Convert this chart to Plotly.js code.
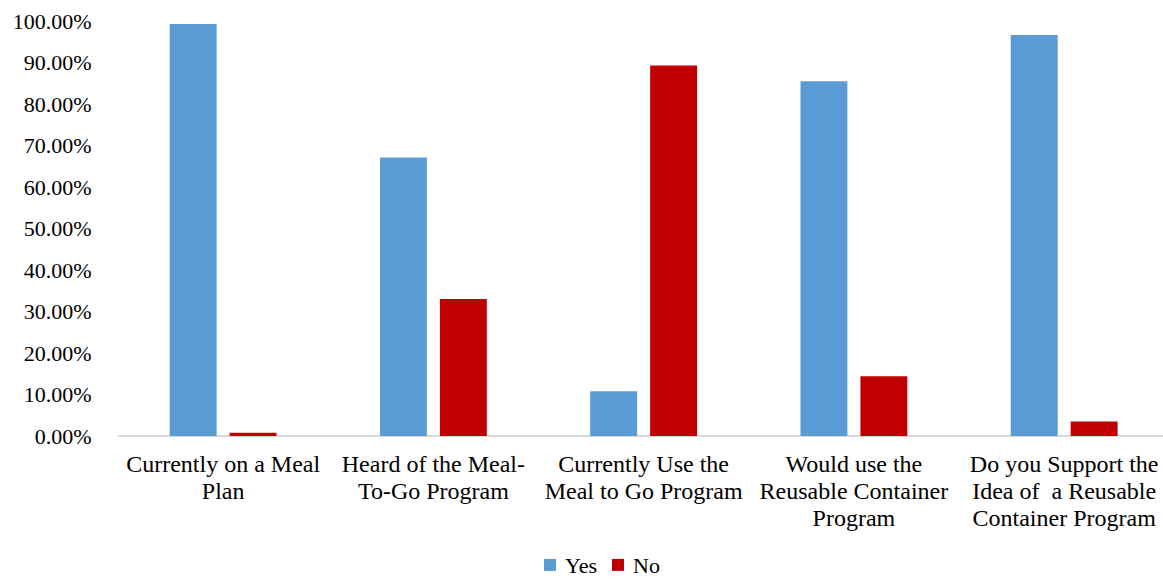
<!DOCTYPE html>
<html>
<head>
<meta charset="utf-8">
<script src="https://cdn.plot.ly/plotly-3.0.1.min.js"></script>
<style>
  html, body { margin: 0; padding: 0; background: #ffffff; }
  #chart { width: 1163px; height: 579px; }
</style>
</head>
<body>
<div id="chart"></div>
<script>
// Survey questions (x categories)
const categories = [
  "Currently on a Meal<br>Plan",
  "Heard of the Meal-<br>To-Go Program",
  "Currently Use the<br>Meal to Go Program",
  "Would use the<br>Reusable Container<br>Program",
  "Do you Support the<br>Idea of  a Reusable<br>Container Program"
];

// Share of respondents answering each way
const yesValues = [0.993, 0.671, 0.108, 0.855, 0.966];
const noValues  = [0.008, 0.330, 0.893, 0.144, 0.035];

// Y-axis ticks
const yTickValues = [0, 0.1, 0.2, 0.3, 0.4, 0.5, 0.6, 0.7, 0.8, 0.9, 1.0];
const yTickLabels = ["0.00%", "10.00%", "20.00%", "30.00%", "40.00%", "50.00%",
                     "60.00%", "70.00%", "80.00%", "90.00%", "100.00%"];

const serif = "Liberation Serif, Times New Roman, serif";

const traces = [
  {
    type: "bar",
    name: "Yes",
    x: categories,
    y: yesValues,
    marker: { color: "#5B9BD5" },
    hoverinfo: "none"
  },
  {
    type: "bar",
    name: "No",
    x: categories,
    y: noValues,
    marker: { color: "#C00000" },
    hoverinfo: "none"
  }
];

const layout = {
  width: 1163,
  height: 579,
  paper_bgcolor: "#ffffff",
  plot_bgcolor: "#ffffff",
  font: { family: serif, color: "#000000", size: 22 },
  margin: { l: 118, r: 0, t: 21, b: 143, pad: 0 },
  barmode: "group",
  bargap: 0.43,
  bargroupgap: 0.217,
  showlegend: true,
  legend: {
    orientation: "h",
    xref: "container",
    yref: "container",
    x: 530 / 1163,
    xanchor: "left",
    y: 0.024,
    yanchor: "middle",
    font: { family: serif, size: 22, color: "#000000" },
    itemwidth: 30,
    entrywidth: 23,
    entrywidthmode: "pixels",
    traceorder: "normal"
  },
  xaxis: {
    type: "category",
    range: [-0.5, 4.47],
    showgrid: false,
    zeroline: false,
    showline: false,
    ticks: "outside",
    ticklen: 6,
    tickcolor: "rgba(0,0,0,0)",
    tickfont: { family: serif, size: 24, color: "#000000" },
    tickangle: 0,
    automargin: false
  },
  yaxis: {
    range: [0, 1],
    tickvals: yTickValues,
    ticktext: yTickLabels,
    showgrid: false,
    zeroline: true,
    zerolinecolor: "#D9D9D9",
    zerolinewidth: 1.5,
    showline: false,
    ticks: "outside",
    ticklen: 21,
    tickcolor: "rgba(0,0,0,0)",
    tickfont: { family: serif, size: 22, color: "#000000" },
    automargin: false
  }
};

// Tighten line spacing of the multi-line category labels and
// pull legend text closer to its swatch.
function tidyText() {
  const ratio = 1.12 / 1.3;
  document.querySelectorAll("#chart .xtick text").forEach(function (t) {
    const lines = t.querySelectorAll("tspan.line");
    lines.forEach(function (ln, i) {
      if (i === 0) return;
      const dy = ln.getAttribute("dy");
      if (dy && /em$/.test(dy)) {
        ln.setAttribute("dy", (parseFloat(dy) * ratio) + "em");
      }
    });
  });
  document.querySelectorAll("#chart .legendtext").forEach(function (t) {
    t.setAttribute("x", 35);
  });
}

Plotly.newPlot("chart", traces, layout, { displayModeBar: false, staticPlot: true })
  .then(tidyText);
</script>
</body>
</html>
